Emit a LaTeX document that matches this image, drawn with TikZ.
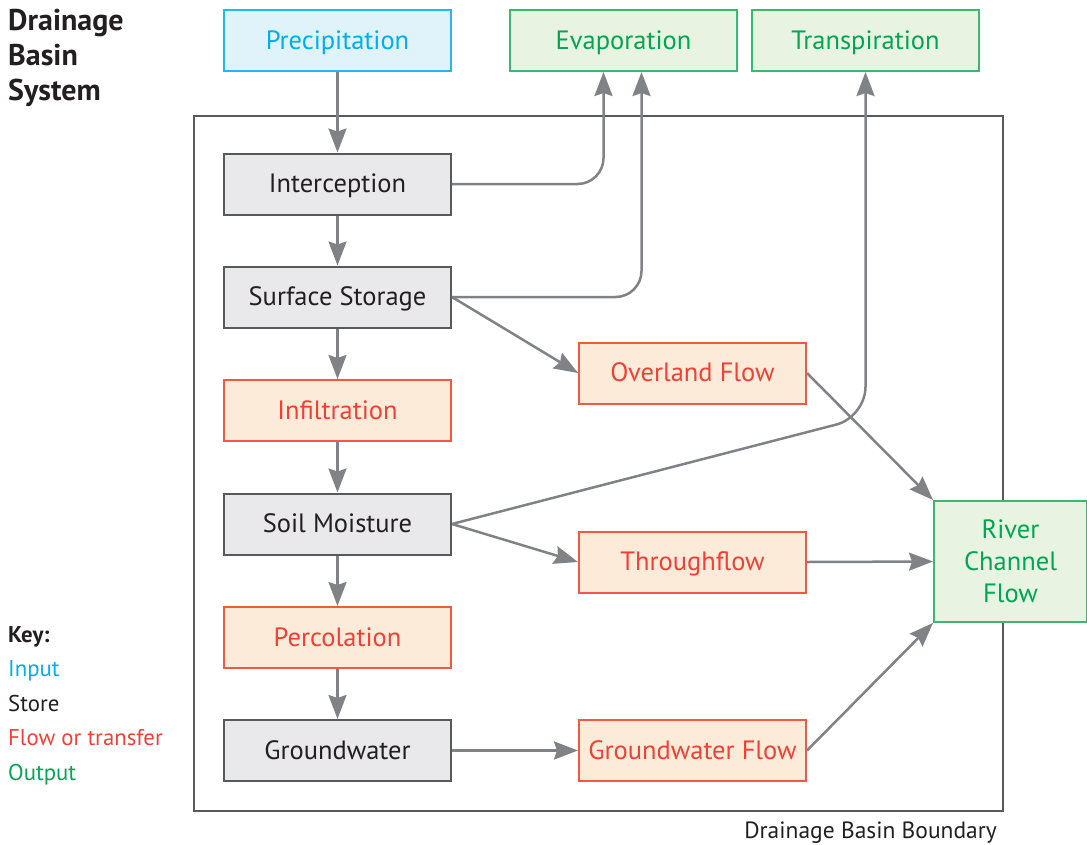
\documentclass[tikz,border=0pt]{standalone}
\usepackage{fontspec}
\setmainfont{PT Sans}
\usetikzlibrary{arrows.meta,calc}
\definecolor{inblue}{HTML}{00AEEF}
\definecolor{inbluefill}{HTML}{E0F2FA}
\definecolor{inblueline}{HTML}{29B6EE}
\definecolor{outgreen}{HTML}{00A651}
\definecolor{outgreenfill}{HTML}{E8F3E1}
\definecolor{outgreenline}{HTML}{3DB870}
\definecolor{flowred}{HTML}{EF4136}
\definecolor{flowfill}{HTML}{FDEBDA}
\definecolor{flowline}{HTML}{F15A40}
\definecolor{storefill}{HTML}{E9E9EB}
\definecolor{storeline}{HTML}{58595B}
\definecolor{arrowgray}{HTML}{808285}
\definecolor{txtdark}{HTML}{231F20}
\tikzset{
  boxbase/.style={draw, line width=2pt, minimum width=227pt, minimum height=61pt, inner sep=0pt,
    font=\fontsize{26.5}{30}\selectfont},
  box/.style={boxbase, text height=19pt, text depth=2pt},
  inputbox/.style={box, draw=inblueline, fill=inbluefill, text=inblue},
  outbox/.style={box, draw=outgreenline, fill=outgreenfill, text=outgreen},
  storebox/.style={box, draw=storeline, fill=storefill, text=txtdark},
  flowbox/.style={box, draw=flowline, fill=flowfill, text=flowred},
  arr/.style={draw=arrowgray, line width=2.5pt, -{Stealth[length=24pt,width=18pt,inset=3pt]}},
}
\begin{document}
\begin{tikzpicture}[x=1pt,y=-1pt]
\useasboundingbox (0,0) rectangle (1087,844);
% boundary
\node[draw=storeline, line width=2pt, minimum width=809pt, minimum height=695pt, inner sep=0pt] (bound) at (598.5,463.5) {};
\node[anchor=base east, text=txtdark, font=\fontsize{23.5}{28}\selectfont, inner sep=0pt] (blabel) at (997,838) {Drainage Basin Boundary};
% title
\node[anchor=north west, align=left, text=txtdark, font=\fontsize{30}{35}\selectfont\bfseries, inner sep=0pt] (title) at (8,9) {Drainage\\Basin\\System};
% key
\node[anchor=north west, align=left, inner sep=0pt, font=\fontsize{22.8}{34.5}\selectfont] (key) at (8,626)
  {\textcolor{txtdark}{\bfseries Key:}\\\textcolor{inblue}{Input}\\\textcolor{txtdark}{Store}\\\textcolor{flowred}{Flow or transfer}\\\textcolor{outgreen}{Output}};
% top row
\node[inputbox] (prec) at (337.5,40.5) {Precipitation};
\node[outbox] (evap) at (623.5,40.5) {Evaporation};
\node[outbox] (trans) at (865.5,40.5) {Transpiration};
% left column
\node[storebox] (inter) at (337.5,184) {Interception};
\node[storebox] (surf) at (337.5,297) {Surface Storage};
\node[flowbox] (infil) at (337.5,410.5) {Infiltration};
\node[storebox] (soil) at (337.5,524) {Soil Moisture};
\node[flowbox] (perc) at (337.5,637.5) {Percolation};
\node[storebox] (gw) at (337.5,750.5) {Groundwater};
% middle column
\node[flowbox] (over) at (692.5,373) {Overland Flow};
\node[flowbox] (through) at (692.5,562) {Throughflow};
\node[flowbox] (gwf) at (692.5,750.5) {Groundwater Flow};
% river
\node[boxbase, draw=outgreenline, fill=outgreenfill, text=outgreen, minimum width=153pt, minimum height=121pt, align=center, font=\fontsize{26.5}{32}\selectfont] (river) at (1010.5,561.5) {River\\Channel\\Flow};
% coordinates
\coordinate (e1) at ([xshift=-20pt]evap.south);
\coordinate (e2) at ([xshift=18pt]evap.south);
\coordinate (tc) at (865.5,417);
% vertical arrows
\draw[arr] (prec) -- (inter);
\draw[arr] (inter) -- (surf);
\draw[arr] (surf) -- (infil);
\draw[arr] (infil) -- (soil);
\draw[arr] (soil) -- (perc);
\draw[arr] (perc) -- (gw);
% evaporation
\draw[arr, rounded corners=26pt] (inter.east) -- (inter.east -| e1) -- (e1);
\draw[arr, rounded corners=26pt] (surf.east) -- (surf.east -| e2) -- (e2);
% transpiration
\draw[arr, rounded corners=30pt] (soil.east) -- (tc) -- (trans.south);
% flows
\draw[arr] (surf.east) -- (over.west);
\draw[arr] (soil.east) -- (through.west);
\draw[arr] (gw.east) -- (gwf.west);
\draw[arr] (over.east) -- (river.north west);
\draw[arr] (through.east) -- (river.west);
\draw[arr] (gwf.east) -- (river.south west);
\end{tikzpicture}
\end{document}
